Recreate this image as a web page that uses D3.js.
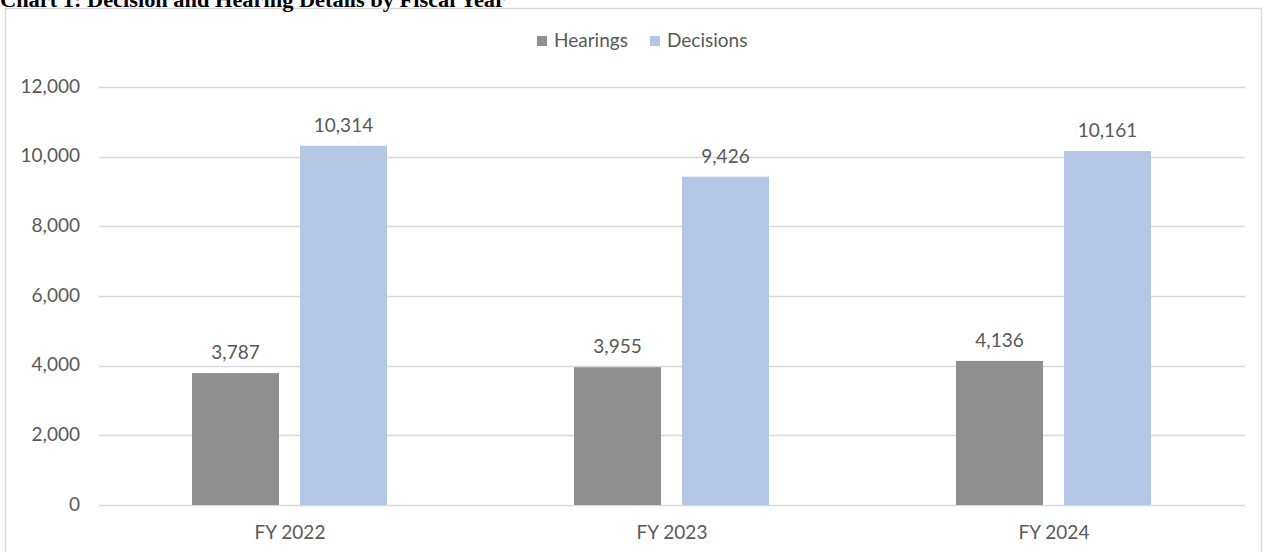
<!DOCTYPE html>
<html>
<head>
<meta charset="utf-8">
<script src="https://cdn.jsdelivr.net/npm/d3@7"></script>
<style>
  body { margin: 0; background: #fff; }
  svg text { font-family: Lato, 'Open Sans', sans-serif; fill: #595959; }
</style>
</head>
<body>
<div id="chart"></div>
<script>
const categories = ['FY 2022', 'FY 2023', 'FY 2024']
const seriesNames = ['Hearings', 'Decisions']
const hearings = [3787, 3955, 4136]
const decisions = [10314, 9426, 10161]
const yTicks = [0, 2000, 4000, 6000, 8000, 10000, 12000]
const colors = { Hearings: '#8f8f8f', Decisions: '#b4c7e7' }

const W = 1265, H = 552
const PLOT = { LEFT: 99, RIGHT: 1245, TOP: 87, BOTTOM: 505 }

const svg = d3.select('#chart').append('svg')
    .attr('width', W)
    .attr('height', H)

// chart border
svg.append('rect')
    .attr('x', 5.5).attr('y', 8.5)
    .attr('width', 1256).attr('height', 600)
    .attr('fill', 'none')
    .attr('stroke', '#d9d9d9')
    .attr('stroke-width', 1.5)

// title, sitting at the very top edge like the source
svg.append('text')
    .attr('x', 0)
    .attr('y', 7)
    .attr('textLength', 505)
    .attr('lengthAdjust', 'spacingAndGlyphs')
    .style('font-family', "'Liberation Serif', 'DejaVu Serif', serif")
    .style('font-weight', 'bold')
    .style('font-size', '21px')
    .style('fill', '#000')
    .text('Chart 1: Decision and Hearing Details by Fiscal Year')

const x0 = d3.scaleBand()
    .domain(categories)
    .range([PLOT.LEFT, PLOT.RIGHT])

// bars sit inside each category band
const x1 = d3.scaleBand()
    .domain(seriesNames)
    .range([93, 288])
    .paddingInner(0.194)

const y = d3.scaleLinear()
    .domain([0, 12000])
    .range([PLOT.BOTTOM, PLOT.TOP])

// gridlines
svg.append('g')
    .selectAll('line')
    .data(yTicks)
    .join('line')
    .attr('x1', PLOT.LEFT).attr('x2', PLOT.RIGHT)
    .attr('y1', d => Math.round(y(d)) + 0.5)
    .attr('y2', d => Math.round(y(d)) + 0.5)
    .attr('stroke', '#d9d9d9')
    .attr('stroke-width', 1.5)

// y axis labels
const yAxis = d3.axisLeft(y)
    .tickValues(yTicks)
    .tickFormat(d3.format(','))
    .tickSize(0)
    .tickPadding(0)
const yAxisGroup = svg.append('g')
    .attr('transform', 'translate(80,0)')
    .call(yAxis)
yAxisGroup.select('.domain').remove()
yAxisGroup.selectAll('text')
    .attr('dy', '0.28em')
    .style('font-size', '19px')
    .style('font-family', "Lato, 'Open Sans', sans-serif")
    .attr('fill', '#595959')

// x axis labels
const xAxis = d3.axisBottom(x0).tickSize(0).tickPadding(0)
const xAxisGroup = svg.append('g')
    .attr('transform', 'translate(0,539)')
    .call(xAxis)
xAxisGroup.select('.domain').remove()
xAxisGroup.selectAll('text')
    .attr('dy', 0)
    .attr('y', 0)
    .style('font-size', '19px')
    .style('font-family', "Lato, 'Open Sans', sans-serif")
    .attr('fill', '#595959')

const rows = categories.map((c, i) => ({
    cat: c,
    values: [
        { key: 'Hearings', value: hearings[i] },
        { key: 'Decisions', value: decisions[i] }
    ]
}))

const groups = svg.append('g')
    .selectAll('g')
    .data(rows)
    .join('g')
    .attr('transform', d => `translate(${x0(d.cat)},0)`)

groups.selectAll('rect')
    .data(d => d.values)
    .join('rect')
    .attr('x', d => x1(d.key))
    .attr('width', x1.bandwidth())
    .attr('y', d => y(d.value))
    .attr('height', d => y(0) - y(d.value))
    .attr('fill', d => colors[d.key])

groups.selectAll('text')
    .data(d => d.values)
    .join('text')
    .attr('x', d => x1(d.key) + x1.bandwidth() / 2)
    .attr('y', d => y(d.value) - 14)
    .attr('text-anchor', 'middle')
    .style('font-size', '19px')
    .text(d => d3.format(',')(d.value))

// legend
const legendX = [537, 650]
const legend = svg.append('g')
    .selectAll('g')
    .data(seriesNames)
    .join('g')
    .attr('transform', (d, i) => `translate(${legendX[i]},36)`)
legend.append('rect')
    .attr('width', 10).attr('height', 10)
    .attr('fill', d => colors[d])
legend.append('text')
    .attr('x', 17)
    .attr('y', 10.5)
    .style('font-size', '19px')
    .text(d => d)
</script>
</body>
</html>
